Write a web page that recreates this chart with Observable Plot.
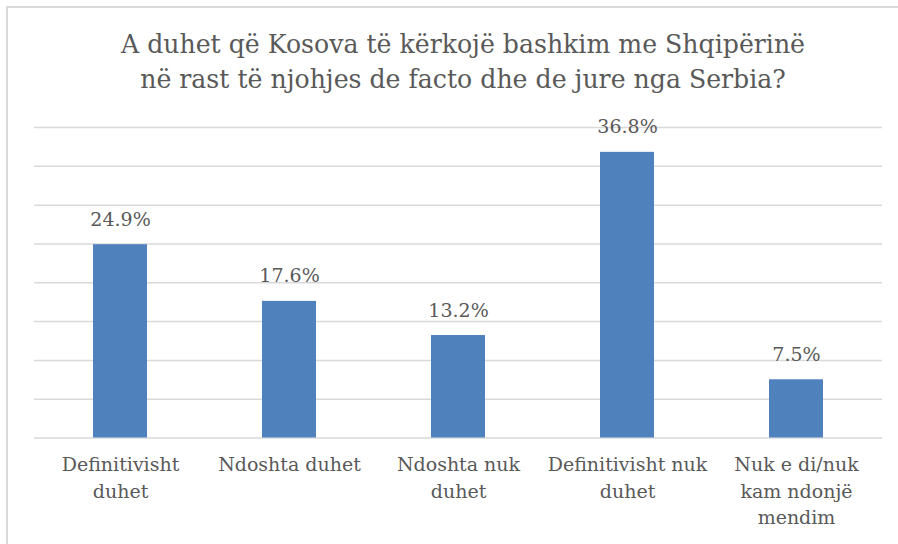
<!DOCTYPE html>
<html>
<head>
<meta charset="utf-8">
<script src="https://cdn.jsdelivr.net/npm/d3@7"></script>
<script src="https://cdn.jsdelivr.net/npm/@observablehq/plot@0.6"></script>
<style>
  html, body { margin: 0; padding: 0; background: #fff; }
  body { width: 898px; height: 544px; overflow: hidden; position: relative; font-family: "DejaVu Serif", serif; }
  #frame { position: absolute; left: 6px; top: 6px; width: 900px; height: 600px; border-left: 2px solid #d9d9d9; border-top: 2px solid #d9d9d9; pointer-events: none; }
  #title { height: 110px; box-sizing: border-box; padding-top: 27px; padding-left: 28px; text-align: center; color: #595959; font-size: 25.2px; line-height: 35px; white-space: nowrap; }
  #chart { display: block; }
</style>
</head>
<body>
<div id="frame"></div>
<div id="title">A duhet që Kosova të kërkojë bashkim me Shqipërinë<br>në rast të njohjes de facto dhe de jure nga Serbia?</div>
<div id="chart"></div>
<script>
const categories = ["Definitivisht\nduhet", "Ndoshta duhet", "Ndoshta nuk\nduhet", "Definitivisht nuk\nduhet", "Nuk e di/nuk\nkam ndonjë\nmendim"];
const values = [24.9, 17.6, 13.2, 36.8, 7.5];
const gridTicks = [0, 5, 10, 15, 20, 25, 30, 35, 40];

const data = categories.map((c, i) => ({category: c, value: values[i]}));

const chart = Plot.plot({
  width: 898,
  height: 434,
  marginTop: 17,
  marginBottom: 106.5,
  marginLeft: 34,
  marginRight: 16,
  style: {fontFamily: "DejaVu Serif, serif", color: "#595959", background: "transparent"},
  x: {domain: categories, paddingInner: 0.68, paddingOuter: 0.34, label: null},
  y: {domain: [0, 40], axis: null},
  marks: [
    Plot.ruleY(gridTicks, {stroke: "#d9d9d9", strokeWidth: 1.5}),
    Plot.barY(data, {x: "category", y: "value", fill: "#4f81bd"}),
    Plot.text(data, {x: "category", y: "value", text: d => d.value.toFixed(1) + "%", lineAnchor: "bottom", dy: -19, fontSize: 19, fill: "#595959"}),
    Plot.axisX({tickSize: 0, tickPadding: 15, fontSize: 19, lineHeight: 1.37, fill: "#595959", label: null})
  ]
});
document.getElementById("chart").appendChild(chart);
</script>
</body>
</html>
